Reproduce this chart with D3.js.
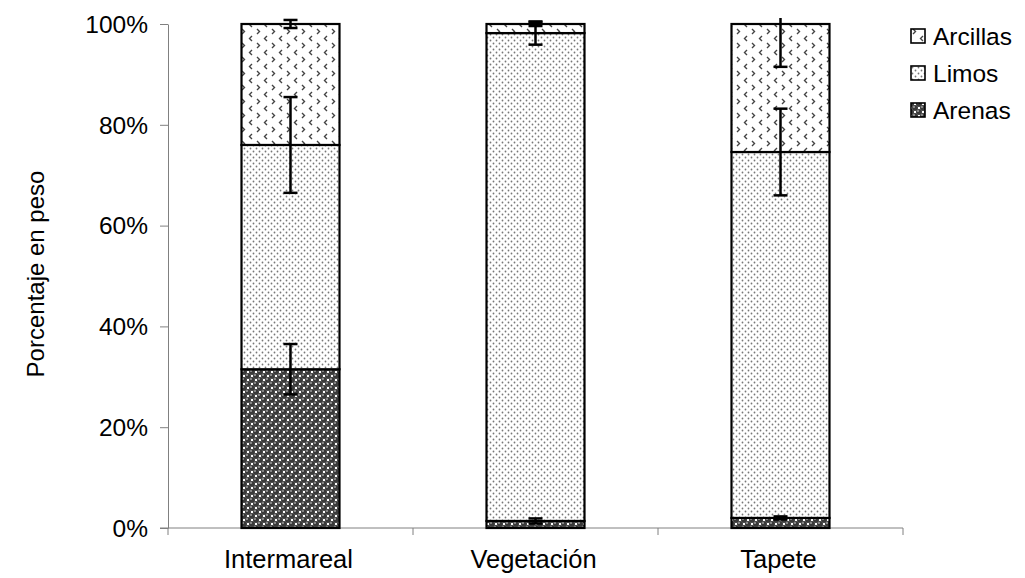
<!DOCTYPE html>
<html>
<head>
<meta charset="utf-8">
<script src="https://d3js.org/d3.v7.min.js"></script>
<style>
  body { margin: 0; background: white; font-family: "Liberation Sans", Arial, sans-serif; }
</style>
</head>
<body>
<svg id="chart" width="1025" height="578"></svg>
<script>
// data (percent by weight)
let categories = ["Intermareal", "Vegetación", "Tapete"]
let seriesNames = ["Arenas", "Limos", "Arcillas"]
let arenas = [31.5, 1.4, 2.0]
let limos = [44.5, 96.8, 72.6]
let arcillas = [24.0, 1.8, 25.4]
let arenasErr = [5.0, 0.5, 0.3]
let limosErr = [9.5, 2.3, 8.6]
let arcillasErr = [0.8, 0.4, 8.5]
let yTicks = [0, 20, 40, 60, 80, 100]

let svg = d3.select("#chart")
let defs = svg.append("defs")

// fill patterns
let pArc = defs.append("pattern").attr("id", "pat-arcillas")
    .attr("patternUnits", "userSpaceOnUse").attr("width", 15).attr("height", 14)
pArc.append("rect").attr("width", 15).attr("height", 14).attr("fill", "white")
pArc.append("path").attr("d", "M2,1 L4.5,3.5 L2,6").attr("fill", "none").attr("stroke", "#444").attr("stroke-width", 1.4)
pArc.append("path").attr("d", "M12,8 L9.5,10.5 L12,13").attr("fill", "none").attr("stroke", "#444").attr("stroke-width", 1.4)

let pLim = defs.append("pattern").attr("id", "pat-limos")
    .attr("patternUnits", "userSpaceOnUse").attr("width", 6).attr("height", 6)
pLim.append("rect").attr("width", 6).attr("height", 6).attr("fill", "white")
pLim.append("circle").attr("cx", 1.5).attr("cy", 1.5).attr("r", 0.9).attr("fill", "#777")
pLim.append("circle").attr("cx", 4.5).attr("cy", 4.5).attr("r", 0.9).attr("fill", "#777")

let pAre = defs.append("pattern").attr("id", "pat-arenas")
    .attr("patternUnits", "userSpaceOnUse").attr("width", 8).attr("height", 8)
pAre.append("rect").attr("width", 8).attr("height", 8).attr("fill", "white")
;[[0, 0], [8, 0], [0, 8], [8, 8], [4, 4]].forEach(function (c) {
    pAre.append("circle").attr("cx", c[0]).attr("cy", c[1]).attr("r", 3.0).attr("fill", "#3a3a3a")
    pAre.append("circle").attr("cx", c[0] - 1).attr("cy", c[1] - 1).attr("r", 0.9).attr("fill", "#aaa")
})

let fills = { Arenas: "url(#pat-arenas)", Limos: "url(#pat-limos)", Arcillas: "url(#pat-arcillas)" }

let x0 = 168, x1 = 903
let x = d3.scaleBand().domain(categories).range([x0, x1]).paddingInner(0.6).paddingOuter(0.3)
let xEdge = d3.scaleBand().domain(categories).range([x0, x1]).padding(0)
let y = d3.scaleLinear().domain([0, 100]).range([528, 24])

// build stacked table
let rows = categories.map(function (c, i) {
    return { cat: c, Arenas: arenas[i], Limos: limos[i], Arcillas: arcillas[i] }
})
let errs = { Arenas: arenasErr, Limos: limosErr, Arcillas: arcillasErr }
let stacked = d3.stack().keys(seriesNames)(rows)

// axes
let axisColor = "#808080"
let yAxis = svg.append("g").attr("transform", "translate(" + x0 + ",0)")
    .call(d3.axisLeft(y).tickValues(yTicks).tickFormat(d => d + "%").tickSize(8).tickSizeOuter(0))
yAxis.select(".domain").attr("stroke", axisColor)
yAxis.selectAll(".tick line").attr("stroke", axisColor)
yAxis.selectAll(".tick text").attr("font-size", 24.5).attr("font-family", "Liberation Sans, Arial, sans-serif")
    .attr("fill", "black").attr("x", -20).attr("dy", "0.34em")

// x axis line and boundary ticks
svg.append("line").attr("x1", x0 - 8).attr("x2", x1).attr("y1", y(0)).attr("y2", y(0)).attr("stroke", axisColor)
let edges = categories.map(c => xEdge(c)).concat([x1])
svg.selectAll(".xtick").data(edges).enter().append("line")
    .attr("x1", d => d).attr("x2", d => d).attr("y1", y(0)).attr("y2", y(0) + 7)
    .attr("stroke", axisColor)
svg.selectAll(".xlab").data(categories).enter().append("text")
    .attr("x", d => xEdge(d) + xEdge.bandwidth() / 2 - 2).attr("y", y(0) + 40)
    .attr("text-anchor", "middle").attr("font-size", 25.5).text(d => d)

svg.append("text").attr("transform", "translate(44," + (y(50) - 2) + ") rotate(-90)")
    .attr("text-anchor", "middle").attr("font-size", 24).text("Porcentaje en peso")

// bars
stacked.forEach(function (layer) {
    svg.append("g").selectAll("rect").data(layer).enter().append("rect")
        .attr("x", d => x(d.data.cat))
        .attr("width", x.bandwidth())
        .attr("y", d => y(d[1]))
        .attr("height", d => y(d[0]) - y(d[1]))
        .attr("fill", fills[layer.key])
        .attr("stroke", "black").attr("stroke-width", 2.2)
})

// error bars, clipped just above the 100% line
defs.append("clipPath").attr("id", "plotclip").append("rect")
    .attr("x", x0).attr("y", 18).attr("width", x1 - x0).attr("height", 530)
let eg = svg.append("g").attr("clip-path", "url(#plotclip)")
stacked.forEach(function (layer) {
    layer.forEach(function (d, i) {
        let cx = x(d.data.cat) + x.bandwidth() / 2
        let e = errs[layer.key][i]
        let hi = y(d[1] + e), lo = y(d[1] - e)
        eg.append("line").attr("x1", cx).attr("x2", cx).attr("y1", hi).attr("y2", lo)
            .attr("stroke", "black").attr("stroke-width", 2.5)
        ;[hi, lo].forEach(function (yy) {
            eg.append("line").attr("x1", cx - 7).attr("x2", cx + 7).attr("y1", yy).attr("y2", yy)
                .attr("stroke", "black").attr("stroke-width", 2.5)
        })
    })
})

// legend
let legendItems = ["Arcillas", "Limos", "Arenas"]
let lg = svg.append("g").attr("transform", "translate(911,0)")
legendItems.forEach(function (k, i) {
    let yy = 36 + i * 37
    lg.append("rect").attr("x", 0).attr("y", yy - 7).attr("width", 14).attr("height", 14)
        .attr("fill", fills[k]).attr("stroke", "black").attr("stroke-width", 1.6)
    lg.append("text").attr("x", 22).attr("y", yy + 8.5).attr("font-size", 24.5).text(k)
})
</script>
</body>
</html>
